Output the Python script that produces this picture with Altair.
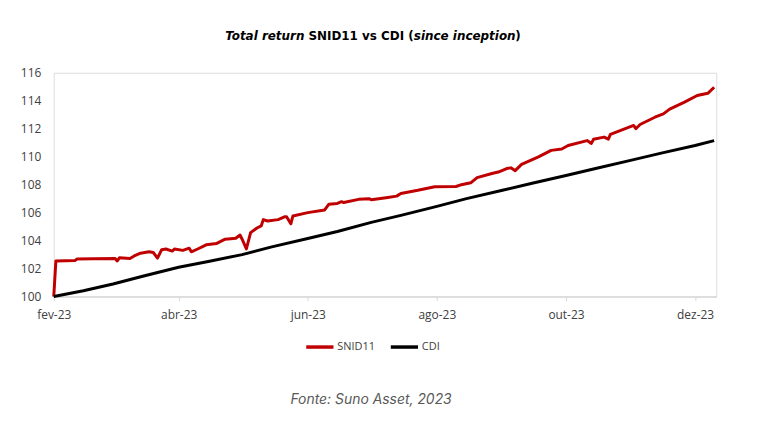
import altair as alt
import pandas as pd

# ---- data ----
snid_dates = ["2023-02-01","2023-02-02","2023-02-11","2023-02-12","2023-02-20","2023-03-02","2023-03-03",
              "2023-03-04","2023-03-09","2023-03-11","2023-03-14","2023-03-18","2023-03-20","2023-03-22",
              "2023-03-24","2023-03-26","2023-03-29","2023-03-30","2023-04-03","2023-04-06","2023-04-07",
              "2023-04-10","2023-04-14","2023-04-19","2023-04-23","2023-04-28","2023-04-30","2023-05-01",
              "2023-05-03","2023-05-05","2023-05-08","2023-05-10","2023-05-11","2023-05-13","2023-05-18",
              "2023-05-21","2023-05-22","2023-05-24","2023-05-25","2023-06-01","2023-06-09","2023-06-11",
              "2023-06-15","2023-06-17","2023-06-18","2023-06-25","2023-06-30","2023-07-01","2023-07-08",
              "2023-07-13","2023-07-15","2023-07-23","2023-07-27","2023-07-31","2023-08-10","2023-08-12",
              "2023-08-17","2023-08-20","2023-08-27","2023-08-30","2023-09-03","2023-09-05","2023-09-07",
              "2023-09-10","2023-09-18","2023-09-24","2023-09-29","2023-10-02","2023-10-11","2023-10-13",
              "2023-10-14","2023-10-19","2023-10-21","2023-10-22","2023-10-29","2023-11-02","2023-11-03",
              "2023-11-05","2023-11-12","2023-11-16","2023-11-19","2023-11-26","2023-12-02","2023-12-07",
              "2023-12-10"]
snid_values = [100.0,102.55,102.57,102.68,102.70,102.72,102.55,
               102.77,102.72,102.90,103.10,103.20,103.15,102.75,
               103.35,103.40,103.25,103.40,103.30,103.46,103.20,
               103.40,103.70,103.80,104.10,104.17,104.40,104.10,
               103.40,104.57,104.90,105.05,105.50,105.40,105.50,
               105.70,105.70,105.20,105.76,106.00,106.19,106.60,
               106.66,106.78,106.72,106.95,107.00,106.92,107.07,
               107.18,107.37,107.60,107.73,107.85,107.87,107.97,
               108.13,108.50,108.80,108.90,109.15,109.20,109.00,
               109.45,109.98,110.45,110.55,110.80,111.15,110.95,
               111.24,111.40,111.25,111.60,112.00,112.23,112.00,
               112.30,112.82,113.06,113.40,113.90,114.37,114.53,
               114.96]

cdi_dates = ["2023-02-01","2023-02-15","2023-03-01","2023-03-15","2023-04-01","2023-04-15","2023-05-01",
             "2023-05-15","2023-06-01","2023-06-15","2023-07-01","2023-07-15","2023-08-01","2023-08-15",
             "2023-09-01","2023-09-15","2023-10-01","2023-10-15","2023-11-01","2023-11-15","2023-12-01",
             "2023-12-10"]
cdi_values = [100.0,100.42,100.90,101.45,102.10,102.50,103.00,
              103.55,104.15,104.65,105.30,105.80,106.45,107.00,
              107.60,108.10,108.65,109.15,109.75,110.25,110.80,
              111.15]

series_names = ["SNID11", "CDI"]
series_colors = ["#C00000", "#000000"]
x_ticks = ["2023-02-01","2023-04-01","2023-06-01","2023-08-01","2023-10-01","2023-12-01"]
y_ticks = [100,102,104,106,108,110,112,114,116]

df = pd.concat([
    pd.DataFrame({"date": snid_dates, "value": snid_values, "serie": "SNID11", "ord": 0}),
    pd.DataFrame({"date": cdi_dates, "value": cdi_values, "serie": "CDI", "ord": 1}),
])

month_expr = ("['jan','fev','mar','abr','mai','jun','jul','ago','set','out','nov','dez'][month(datum.value)]"
              " + '-' + timeFormat(datum.value, '%y')")

lines = alt.Chart(df).mark_line(strokeWidth=3, strokeJoin="round").encode(
    x=alt.X("date:T",
            scale=alt.Scale(domain=["2023-02-01T00:00:00", "2023-12-11T00:00:00"]),
            axis=alt.Axis(title=None, values=[d + "T00:00:00" for d in x_ticks], labelExpr=month_expr,
                          grid=False, domainColor="#d9d9d9", domainWidth=1.5, tickColor="#d9d9d9",
                          tickSize=4, labelPadding=9, labelColor="#404040", labelFontSize=12,
                          labelFont="Open Sans", labelFlush=False, labelOverlap=False)),
    y=alt.Y("value:Q",
            scale=alt.Scale(domain=[100, 116], nice=False, zero=False),
            axis=alt.Axis(title=None, values=y_ticks, grid=False, domain=False, ticks=False,
                          labelPadding=13, labelColor="#404040", labelFontSize=12,
                          labelFont="Open Sans")),
    color=alt.Color("serie:N", scale=alt.Scale(domain=series_names, range=series_colors),
                    legend=alt.Legend(title=None, orient="none", legendX=252, legendY=260,
                                      direction="horizontal", symbolType="stroke", symbolSize=750,
                                      symbolStrokeWidth=3.5, labelFont="Open Sans", labelFontSize=11,
                                      labelColor="#404040", columnPadding=8, labelOffset=2)),
    order=alt.Order("ord:Q"),
    detail="serie:N",
)

title_font = "DejaVu Sans"
t_size = 12
def txt(s, x, italic, align="left", size=t_size, weight="bold", color="#000000", y=-37, font=title_font):
    return alt.Chart(pd.DataFrame({"t": [s]})).mark_text(
        align=align, baseline="middle", font=font, fontSize=size, fontWeight=weight,
        fontStyle="italic" if italic else "normal", color=color
    ).encode(text="t:N", x=alt.value(x), y=alt.value(y))

title_parts = [
    txt("Total return", 252, True, align="right"),
    txt("SNID11 vs CDI (", 256, False),
    txt("since inception", 362, True),
    txt(")", 464, False),
]

source = txt("Fonte: Suno Asset, 2023", 319, True, align="center", size=14, weight="normal",
             color="#595959", y=329, font="Inter")

chart = alt.layer(lines, *title_parts, source).properties(
    width=666, height=225,
    padding={"left": 46, "top": 64, "right": 50, "bottom": 120},
    autosize=alt.AutoSizeParams(type="none"),
).configure_view(stroke=None).configure(background="#ffffff")

chart.save("out.html", embed_options={"renderer": "svg", "actions": False})
